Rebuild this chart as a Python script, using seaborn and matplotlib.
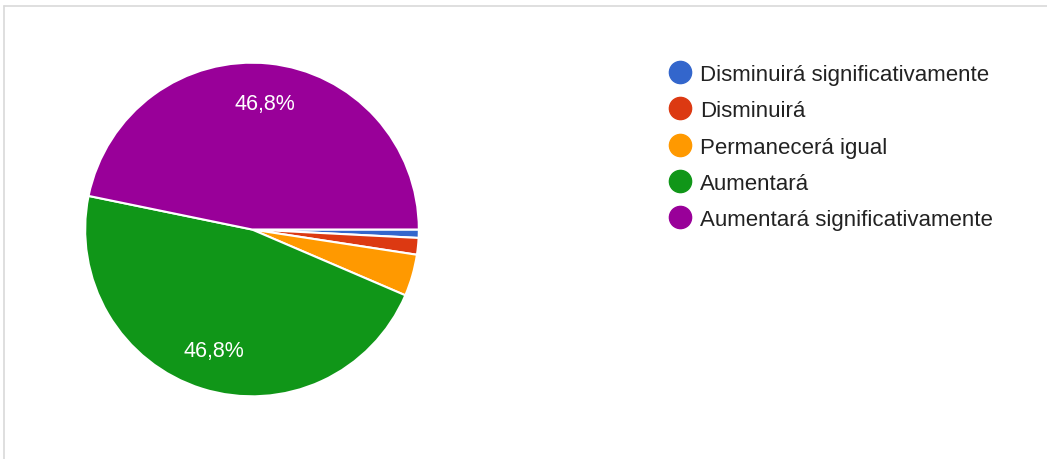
import matplotlib
matplotlib.use("Agg")
import matplotlib.pyplot as plt
from matplotlib.lines import Line2D
import seaborn as sns

categorias = ["Disminuirá significativamente", "Disminuirá", "Permanecerá igual",
              "Aumentará", "Aumentará significativamente"]
respuestas = [1, 2, 5, 58, 58]
colores = ["#3366cc", "#dc3912", "#ff9900", "#109618", "#990099"]

sns.set_theme(style="white")
plt.rcParams['font.family'] = ['Liberation Sans', 'DejaVu Sans']

fig = plt.figure(figsize=(10.47, 4.6), dpi=100)
ax = fig.add_axes([252/1047 - 168.5/1047, 229.5/460 - 168.5/460, 337/1047, 337/460])


def etiqueta(pct):
    return f"{pct:.1f}%".replace(".", ",") if pct > 5 else ""


wedges, textos, pcts = ax.pie(
    respuestas,
    colors=colores,
    startangle=0,
    counterclock=False,
    autopct=etiqueta,
    pctdistance=0.76,
    wedgeprops=dict(edgecolor="white", linewidth=1.5),
    textprops=dict(color="white", fontsize=15.5),
)
ax.set_xlim(-1.01, 1.01)
ax.set_ylim(-1.01, 1.01)
ax.set_aspect("equal")
ax.axis("off")

handles = [Line2D([0], [0], marker="o", linestyle="", markersize=16,
                  markerfacecolor=c, markeredgecolor=c) for c in colores]
fig.legend(handles, categorias, loc="upper left", bbox_to_anchor=(660/1047, 1 - 56/460),
           frameon=False, fontsize=16, labelspacing=0.69, handletextpad=0.4,
           handlelength=1.0, labelcolor="#222222", borderaxespad=0)

# borde del contenedor
fig.add_artist(Line2D([3.5/1047, 1], [1 - 6.5/460, 1 - 6.5/460], color="#d9d9d9", linewidth=1.2))
fig.add_artist(Line2D([3.5/1047, 3.5/1047], [0, 1 - 6.5/460], color="#d9d9d9", linewidth=1.2))

fig.savefig("out.png", dpi=100, facecolor="white")
